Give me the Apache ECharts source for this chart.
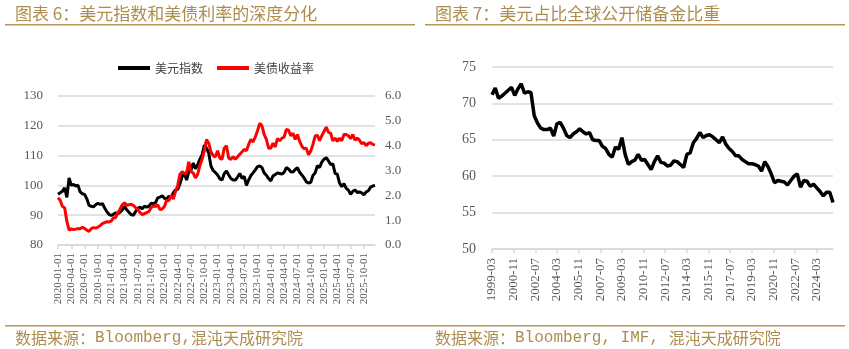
<!DOCTYPE html>
<html><head><meta charset="utf-8">
<script src="https://cdn.jsdelivr.net/npm/echarts@6/dist/echarts.min.js"></script>
<style>html,body{margin:0;padding:0;background:#fff}#c{width:849px;height:349px}</style>
</head><body><div id="c"></div>
<script>
// ---------- text ----------
const leftTitle = '图表 6：美元指数和美债利率的深度分化';
const rightTitle = '图表 7：美元占比全球公开储备金比重';
const leftSource = '数据来源：Bloomberg,混沌天成研究院';
const rightSource = '数据来源：Bloomberg, IMF, 混沌天成研究院';
const leftSeriesNames = ['美元指数', '美债收益率'];
const rightSeriesName = '美元占比';

// ---------- left chart: semi-monthly samples 2020-01-01 .. 2025-12-16 ----------
const leftStartYear = 2020, leftEndYear = 2025;
const leftTickLabels = ['2020-01-01','2020-04-01','2020-07-01','2020-10-01','2021-01-01','2021-04-01','2021-07-01','2021-10-01',
  '2022-01-01','2022-04-01','2022-07-01','2022-10-01','2023-01-01','2023-04-01','2023-07-01','2023-10-01',
  '2024-01-01','2024-04-01','2024-07-01','2024-10-01','2025-01-01','2025-04-01','2025-07-01','2025-10-01'];
const dollarIndex = [
  97.0, 97.5, 98.0, 99.2, 96.0, 102.5, 100.0, 100.3, 99.8, 100.1, 97.8, 97.2, 97.0, 95.5, 93.3, 93.0, 92.8, 93.5, 94.0, 93.6, 93.9, 92.5, 91.2, 90.3,
  89.9, 90.3, 90.8, 90.5, 91.0, 91.8, 93.0, 91.8, 91.0, 90.2, 90.0, 91.2, 92.3, 92.7, 92.2, 93.0, 92.7, 93.0, 94.0, 93.8, 94.2, 95.8, 96.1, 96.5,
  95.7, 95.3, 96.4, 95.9, 97.5, 98.5, 98.6, 100.5, 103.0, 104.0, 101.8, 104.6, 105.1, 107.5, 105.6, 106.9, 108.8, 110.2, 113.5, 112.5, 110.8, 106.5, 105.0, 104.3,
  103.5, 102.2, 101.8, 104.0, 104.8, 103.5, 102.3, 101.8, 101.8, 102.8, 104.0, 102.4, 103.0, 100.0, 101.8, 103.3, 104.2, 105.2, 106.3, 106.5, 106.0, 104.2, 103.4, 102.3,
  101.5, 103.2, 103.6, 104.2, 104.0, 103.8, 104.4, 106.0, 105.5, 104.6, 104.5, 105.3, 106.0, 104.4, 103.5, 102.5, 101.2, 100.8, 101.0, 103.3, 104.2, 106.6, 106.0, 107.8,
  108.8, 109.3, 108.2, 107.0, 107.2, 104.0, 103.8, 100.8, 99.6, 100.6, 99.0, 98.4, 97.0, 98.0, 98.5, 97.6, 97.8, 97.5, 96.8, 97.8, 98.2, 99.4, 99.8, 100.0
];
const treasuryYield = [
  1.90, 1.80, 1.55, 1.50, 0.95, 0.60, 0.65, 0.62, 0.64, 0.66, 0.65, 0.72, 0.66, 0.60, 0.55, 0.66, 0.70, 0.68, 0.72, 0.78, 0.86, 0.90, 0.94, 0.93,
  0.96, 1.10, 1.10, 1.30, 1.45, 1.62, 1.70, 1.60, 1.62, 1.64, 1.60, 1.50, 1.45, 1.30, 1.22, 1.26, 1.30, 1.35, 1.50, 1.58, 1.55, 1.62, 1.43, 1.45,
  1.55, 1.80, 1.78, 2.00, 1.85, 2.15, 2.40, 2.85, 2.95, 2.88, 2.90, 3.35, 2.95, 2.90, 2.70, 2.85, 3.20, 3.45, 3.80, 4.25, 4.10, 3.75, 3.60, 3.55,
  3.80, 3.50, 3.45, 3.90, 4.00, 3.50, 3.45, 3.55, 3.45, 3.55, 3.65, 3.75, 3.85, 3.80, 4.05, 4.25, 4.15, 4.35, 4.60, 4.90, 4.80, 4.45, 4.25, 3.90,
  3.90, 4.10, 3.95, 4.28, 4.20, 4.30, 4.35, 4.65, 4.62, 4.40, 4.50, 4.25, 4.45, 4.18, 3.98, 3.88, 3.90, 3.63, 3.78, 4.05, 4.38, 4.42, 4.20, 4.40,
  4.57, 4.75, 4.54, 4.50, 4.20, 4.30, 4.17, 4.30, 4.20, 4.45, 4.45, 4.40, 4.28, 4.45, 4.22, 4.30, 4.22, 4.08, 4.12, 4.00, 4.10, 4.12, 4.05, 4.02
];

// ---------- right chart: quarterly 1999-03 .. 2025-06 on a monthly axis ----------
const rightStart = [1999, 3], rightEnd = [2025, 6];
const rightTickLabels = ['1999-03','2000-11','2002-07','2004-03','2005-11','2007-07','2009-03','2010-11',
  '2012-07','2014-03','2015-11','2017-07','2019-03','2020-11','2022-07','2024-03'];
const usdReserveShare = [
  71.2, 72.1, 70.7, 71.0, 71.4, 71.8, 72.2, 71.1, 72.0, 72.7, 71.4, 71.6, 71.5, 68.3, 67.3, 66.6, 66.4, 66.4, 66.6, 65.5,
  67.2, 67.4, 66.6, 65.6, 65.3, 65.8, 66.1, 66.5, 66.1, 65.8, 66.0, 65.0, 64.9, 64.9, 64.1, 63.8, 63.0, 62.6, 64.0, 63.7,
  65.3, 63.0, 61.6, 62.0, 62.2, 63.0, 62.2, 62.3, 61.6, 60.9, 62.0, 62.8, 61.9, 61.8, 61.4, 61.5, 62.1, 62.0, 61.6, 61.2,
  63.0, 63.2, 64.6, 65.2, 66.0, 65.3, 65.6, 65.7, 65.4, 65.0, 64.6, 65.4, 64.4, 63.8, 63.4, 62.8, 62.8, 62.3, 62.0, 61.7,
  61.7, 61.6, 61.4, 60.7, 62.0, 61.3, 60.3, 59.1, 59.4, 59.3, 59.2, 58.8, 59.4, 60.0, 60.3, 58.5, 59.4, 59.3, 58.6, 58.9,
  58.4, 57.9, 57.3, 57.8, 57.8, 56.4
];

// ---------- build tables ----------
const pad = n => String(n).padStart(2, '0');
const leftDates = [];
for (let y = leftStartYear; y <= leftEndYear; y++)
  for (let m = 1; m <= 12; m++) { leftDates.push(`${y}-${pad(m)}-01`); leftDates.push(`${y}-${pad(m)}-16`); }
const rightMonths = [];
for (let y = rightStart[0], m = rightStart[1]; y < rightEnd[0] || (y === rightEnd[0] && m <= rightEnd[1]); ) {
  rightMonths.push(`${y}-${pad(m)}`); m++; if (m > 12) { m = 1; y++; }
}
const rightData = rightMonths.map((_, i) => (i % 3 === 0 ? usdReserveShare[i / 3] : null));

// ---------- styles ----------
const GOLD = '#ad8d4e', GOLD_LINE = '#b8975a', AX = '#595959', GRID = '#d9d9d9';
const SERIF = '"Liberation Serif","DejaVu Serif",serif';
const CJK = '"Noto Sans CJK SC","Noto Sans",sans-serif';
const MONO = '"Liberation Mono","DejaVu Sans Mono",monospace';

// split a source line into CJK runs and Latin runs (rich text, same characters)
function richSource(s) {
  return s.match(/[\x20-\x7e]+|[^\x20-\x7e]+/g)
    .map(run => (/^[\x20-\x7e]+$/.test(run) ? `{m|${run}}` : `{c|${run}}`)).join('');
}
const sourceRich = {
  c: { fontFamily: CJK, fontSize: 16, fill: GOLD },
  m: { fontFamily: MONO, fontSize: 16, fill: GOLD }
};

const chart = echarts.init(document.getElementById('c'), null, { renderer: 'canvas' });
const leftShow = (i, v) => leftTickLabels.includes(v);
const rightShow = (i, v) => rightTickLabels.includes(v);

chart.setOption({
  animation: false,
  backgroundColor: '#fff',
  legend: {
    left: 113, top: 57, itemWidth: 32, itemHeight: 4, itemGap: 14, icon: 'rect',
    data: leftSeriesNames,
    textStyle: { color: '#404040', fontSize: 12, fontFamily: CJK }
  },
  grid: [
    { left: 58, right: 474, top: 96, bottom: 104 },
    { left: 492, right: 16, top: 67, bottom: 100 }
  ],
  xAxis: [
    { type: 'category', gridIndex: 0, data: leftDates, boundaryGap: false,
      axisLine: { lineStyle: { color: GRID, width: 1.5 } },
      axisTick: { interval: leftShow, length: 4, lineStyle: { color: GRID, width: 1.5 } },
      axisLabel: { interval: leftShow, rotate: 90, margin: 8, color: AX, fontSize: 11, fontFamily: SERIF } },
    { type: 'category', gridIndex: 1, data: rightMonths, boundaryGap: false,
      axisLine: { lineStyle: { color: GRID, width: 1.5 } },
      axisTick: { interval: rightShow, length: 4, lineStyle: { color: GRID, width: 1.5 } },
      axisLabel: { interval: rightShow, rotate: 90, margin: 9, color: AX, fontSize: 13, fontFamily: SERIF } }
  ],
  yAxis: [
    { type: 'value', gridIndex: 0, min: 80, max: 130, interval: 10,
      axisLine: { show: false }, axisTick: { show: false },
      splitLine: { lineStyle: { color: GRID, width: 1.5 } },
      axisLabel: { margin: 15, color: AX, fontSize: 13, fontFamily: SERIF } },
    { type: 'value', gridIndex: 0, position: 'right', min: 0, max: 6, interval: 1,
      axisLine: { show: false }, axisTick: { show: false }, splitLine: { show: false },
      axisLabel: { margin: 10, color: AX, fontSize: 13, fontFamily: SERIF, formatter: v => v.toFixed(1) } },
    { type: 'value', gridIndex: 1, min: 50, max: 75, interval: 5,
      axisLine: { show: false }, axisTick: { show: false },
      splitLine: { lineStyle: { color: GRID, width: 1.5 } },
      axisLabel: { margin: 16, color: AX, fontSize: 14, fontFamily: SERIF } }
  ],
  series: [
    { name: leftSeriesNames[0], type: 'line', xAxisIndex: 0, yAxisIndex: 0, data: dollarIndex,
      symbol: 'none', color: '#000', lineStyle: { color: '#000', width: 3 }, z: 3 },
    { name: leftSeriesNames[1], type: 'line', xAxisIndex: 0, yAxisIndex: 1, data: treasuryYield,
      symbol: 'none', color: '#ff0000', lineStyle: { color: '#ff0000', width: 3 }, z: 4 },
    { name: rightSeriesName, type: 'line', xAxisIndex: 1, yAxisIndex: 2, data: rightData, connectNulls: true,
      symbol: 'none', color: '#000', lineStyle: { color: '#000', width: 3.5 } }
  ],
  graphic: [
    { type: 'text', left: 15, top: 5, style: { text: leftTitle, fill: GOLD, font: `17px ${CJK}` } },
    { type: 'text', left: 435, top: 5, style: { text: rightTitle, fill: GOLD, font: `17px ${CJK}` } },
    { type: 'rect', shape: { x: 5, y: 24, width: 410, height: 1.5 }, style: { fill: GOLD_LINE } },
    { type: 'rect', shape: { x: 425, y: 24, width: 420, height: 1.5 }, style: { fill: GOLD_LINE } },
    { type: 'rect', shape: { x: 5, y: 325, width: 840, height: 1.5 }, style: { fill: GOLD_LINE } },
    { type: 'text', left: 15, top: 330, style: { text: richSource(leftSource), rich: sourceRich, fill: GOLD } },
    { type: 'text', left: 435, top: 330, style: { text: richSource(rightSource), rich: sourceRich, fill: GOLD } }
  ]
});
</script></body></html>
